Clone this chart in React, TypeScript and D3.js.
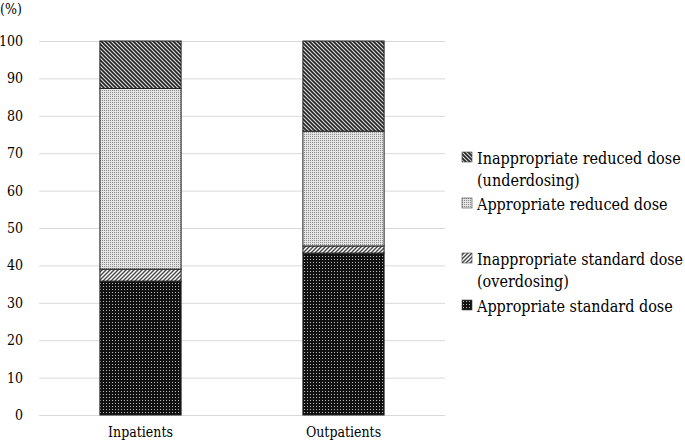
import React, { useEffect, useRef } from "react";
import * as d3 from "d3";

const categories = ["Inpatients", "Outpatients"];
const seriesNames = [
  "Appropriate standard dose",
  "Inappropriate standard dose (overdosing)",
  "Appropriate reduced dose",
  "Inappropriate reduced dose (underdosing)",
];
const appropriateStandard = [35.8, 43.3];
const inappropriateStandard = [3.2, 1.9];
const appropriateReduced = [48.3, 30.7];
const inappropriateReduced = [12.7, 24.1];
const yTicks = [0, 10, 20, 30, 40, 50, 60, 70, 80, 90, 100];

const legendLines = [
  ["Inappropriate reduced dose", "(underdosing)"],
  ["Appropriate reduced dose"],
  ["Inappropriate standard dose", "(overdosing)"],
  ["Appropriate standard dose"],
];

const App = () => {
  const svgRef = useRef<SVGSVGElement | null>(null);

  useEffect(() => {
    const svg = d3.select(svgRef.current);
    svg.selectAll("*").remove();

    const width = 685;
    const height = 442;
    const margin = { top: 41, right: 240, bottom: 27, left: 39 };

    const defs = svg.append("defs");

    // dark downward stripes (underdosing)
    const p1 = defs
      .append("pattern")
      .attr("id", "pat-under")
      .attr("patternUnits", "userSpaceOnUse")
      .attr("width", 4)
      .attr("height", 4);
    p1.append("rect").attr("width", 4).attr("height", 4).attr("fill", "#d8d8d8");
    p1.append("path")
      .attr("d", "M-1,-1 L5,5 M-1,3 L1,5 M3,-1 L5,1")
      .attr("stroke", "#222")
      .attr("stroke-width", 1.6);

    // light dots (appropriate reduced)
    const p2 = defs
      .append("pattern")
      .attr("id", "pat-reduced")
      .attr("patternUnits", "userSpaceOnUse")
      .attr("width", 2)
      .attr("height", 2);
    p2.append("rect").attr("width", 2).attr("height", 2).attr("fill", "#e4e4e4");
    p2.append("rect").attr("width", 1).attr("height", 1).attr("fill", "#8a8a8a");

    // light upward stripes (overdosing)
    const p3 = defs
      .append("pattern")
      .attr("id", "pat-over")
      .attr("patternUnits", "userSpaceOnUse")
      .attr("width", 4)
      .attr("height", 4);
    p3.append("rect").attr("width", 4).attr("height", 4).attr("fill", "#fff");
    p3.append("path")
      .attr("d", "M-1,5 L5,-1 M-1,1 L1,-1 M3,5 L5,3")
      .attr("stroke", "#444")
      .attr("stroke-width", 1.4);

    // black with white dots (appropriate standard)
    const p4 = defs
      .append("pattern")
      .attr("id", "pat-standard")
      .attr("patternUnits", "userSpaceOnUse")
      .attr("width", 3)
      .attr("height", 3);
    p4.append("rect").attr("width", 3).attr("height", 3).attr("fill", "#111");
    p4.append("rect").attr("x", 1).attr("y", 1).attr("width", 1).attr("height", 1).attr("fill", "#bbb");

    const fills = ["url(#pat-standard)", "url(#pat-over)", "url(#pat-reduced)", "url(#pat-under)"];
    const legendFills = ["url(#pat-under)", "url(#pat-reduced)", "url(#pat-over)", "url(#pat-standard)"];

    const x = d3
      .scaleBand()
      .domain(categories)
      .range([margin.left, width - margin.right])
      .paddingInner(0.6)
      .paddingOuter(0.3);

    const y = d3
      .scaleLinear()
      .domain([0, 100])
      .range([height - margin.bottom, margin.top]);

    // gridlines
    svg
      .append("g")
      .selectAll("line")
      .data(yTicks)
      .join("line")
      .attr("x1", margin.left)
      .attr("x2", width - margin.right)
      .attr("y1", (d) => y(d) + 0.5)
      .attr("y2", (d) => y(d) + 0.5)
      .attr("stroke", "#d9d9d9")
      .attr("stroke-width", 1);

    // y tick labels
    svg
      .append("g")
      .selectAll("text")
      .data(yTicks)
      .join("text")
      .attr("x", 23)
      .attr("y", (d) => y(d))
      .attr("dy", "0.35em")
      .attr("text-anchor", "end")
      .attr("font-size", 14)
      .text((d) => d);

    svg
      .append("text")
      .attr("x", 0)
      .attr("y", 14)
      .attr("font-size", 14)
      .text("(%)");

    // stacked bars
    const rows = categories.map((c, i) => ({
      cat: c,
      s0: appropriateStandard[i],
      s1: inappropriateStandard[i],
      s2: appropriateReduced[i],
      s3: inappropriateReduced[i],
    }));
    const keys = ["s0", "s1", "s2", "s3"];
    const stacked = d3.stack<any>().keys(keys)(rows);

    stacked.forEach((layer, li) => {
      svg
        .append("g")
        .selectAll("rect")
        .data(layer)
        .join("rect")
        .attr("x", (d) => x(d.data.cat)!)
        .attr("width", x.bandwidth())
        .attr("y", (d) => y(d[1]))
        .attr("height", (d) => y(d[0]) - y(d[1]))
        .attr("fill", fills[li])
        .attr("stroke", "#222")
        .attr("stroke-width", 1);
    });

    // x labels
    svg
      .append("g")
      .selectAll("text")
      .data(categories)
      .join("text")
      .attr("x", (d) => x(d)! + x.bandwidth() / 2)
      .attr("y", 437)
      .attr("text-anchor", "middle")
      .attr("font-size", 14)
      .text((d) => d);

    // legend
    const legendX = 462;
    const textX = 477;
    const maxText = width - 2 - legendX - textX + legendX;
    const legendY = [158, 204, 259, 306];
    const legend = svg.append("g").attr("aria-label", seriesNames.join(", "));
    legendLines.forEach((lines, i) => {
      const g = legend.append("g").attr("transform", `translate(${legendX}, ${legendY[i]})`);
      g.append("rect")
        .attr("x", 0)
        .attr("y", -6)
        .attr("width", 10)
        .attr("height", 10)
        .attr("fill", legendFills[i])
        .attr("stroke", "#444")
        .attr("stroke-width", 0.6);
      lines.forEach((line, j) => {
        const t = g
          .append("text")
          .attr("x", textX - legendX)
          .attr("y", j * 22)
          .attr("dy", "0.35em")
          .attr("font-size", 16)
          .text(line);
        const len = (t.node() as SVGTextElement).getComputedTextLength();
        if (len > maxText) {
          t.attr("textLength", maxText).attr("lengthAdjust", "spacingAndGlyphs");
        }
      });
    });
  }, []);

  return (
    <svg
      ref={svgRef}
      width={685}
      height={442}
      style={{
        position: "absolute",
        left: 0,
        top: 0,
        background: "#fff",
        fontFamily: '"DejaVu Serif Condensed", "DejaVu Serif", serif',
        fontStretch: "condensed",
      }}
    />
  );
};

export default App;
